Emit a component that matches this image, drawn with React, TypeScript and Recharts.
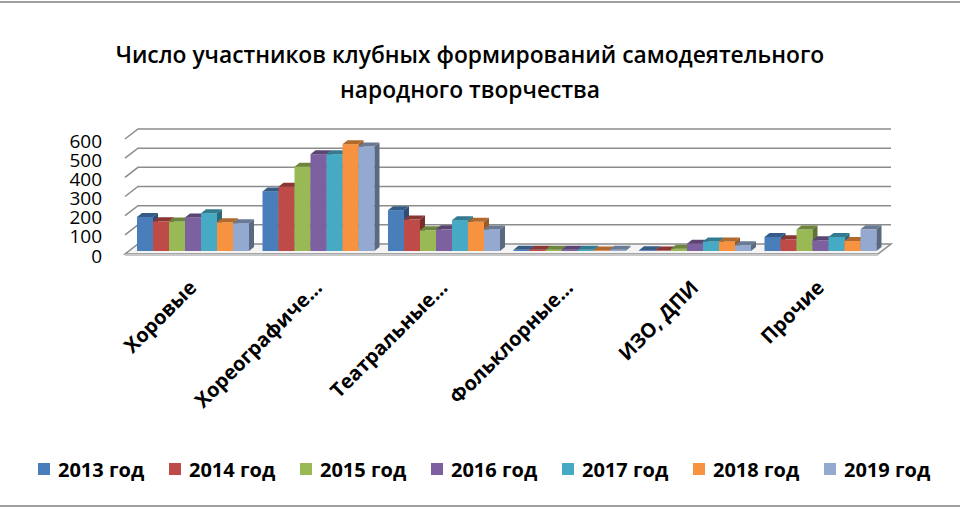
import React from 'react';
import { BarChart, Bar, XAxis, YAxis, CartesianGrid, Legend } from 'recharts';

const CATEGORIES = ['Хоровые', 'Хореографиче...', 'Театральные...', 'Фольклорные...', 'ИЗО, ДПИ', 'Прочие'];
const YEARS = ['2013 год', '2014 год', '2015 год', '2016 год', '2017 год', '2018 год', '2019 год'];

const Y2013 = [178, 311, 213, 6, 4, 73];
const Y2014 = [155, 335, 164, 6, 2, 61];
const Y2015 = [154, 440, 108, 6, 12, 112];
const Y2016 = [175, 505, 113, 6, 38, 56];
const Y2017 = [197, 505, 161, 6, 50, 73];
const Y2018 = [150, 557, 152, 3, 50, 52];
const Y2019 = [145, 545, 112, 6, 30, 113];
const SERIES = [Y2013, Y2014, Y2015, Y2016, Y2017, Y2018, Y2019];

const Y_TICKS = [0, 100, 200, 300, 400, 500, 600];
const COLORS = ['#4A7EBB', '#BE4B48', '#98B954', '#7D60A0', '#46AAC5', '#F69240', '#93A9CF'];

const FONT = "'Open Sans', sans-serif";
const GRID = '#8c8c8c';
// смещение "глубины" для псевдо-3D
const DX = 5;
const DY = 4;

const data = CATEGORIES.map((name, i) => {
  const row: Record<string, string | number> = { name };
  SERIES.forEach((s, k) => { row[`s${k}`] = s[i]; });
  return row;
});

function shade(hex: string, f: number) {
  const n = parseInt(hex.slice(1), 16);
  const c = [(n >> 16) & 255, (n >> 8) & 255, n & 255].map(v => Math.round(v * f));
  return `rgb(${c[0]},${c[1]},${c[2]})`;
}

const Bar3D = (props: any) => {
  const { x, y, width, height, fill } = props;
  if (x == null || y == null) return null;
  const h = Math.max(height, 0);
  return (
    <g>
      <rect x={x} y={y} width={width} height={h} fill={fill} />
      <polygon
        points={`${x},${y} ${x + DX},${y - DY} ${x + width + DX},${y - DY} ${x + width},${y}`}
        fill={shade(fill, 0.72)}
      />
      <polygon
        points={`${x + width},${y} ${x + width + DX},${y - DY} ${x + width + DX},${y + h - DY} ${x + width},${y + h}`}
        fill={shade(fill, 0.62)}
      />
    </g>
  );
};

// задняя стенка: линии сетки со "ступенькой" слева, нижняя — пол
const GridLine = (props: any) => {
  const { x1, x2, y1, index } = props;
  const bottom = props.y != null && props.height != null ? props.y + props.height : null;
  const isFloor = bottom != null ? Math.abs(y1 - bottom) < 0.5 : index === 0;
  if (isFloor) {
    return (
      <g key={`floor`}>
        <polygon
          points={`${x1 - 5},${y1 + 3} ${x2 - 5},${y1 + 3} ${x2 + 8},${y1 - 7} ${x1 + 8},${y1 - 7}`}
          fill="#f4f4f4" stroke={GRID} strokeWidth={1.5}
        />
        <rect x={x1 - 5} y={y1 + 3} width={x2 - x1} height={2} fill="#c8c8c8" />
      </g>
    );
  }
  return (
    <polyline
      key={`gl-${index}`}
      points={`${x1 - 5},${y1 + 3} ${x1 + 8},${y1 - 7} ${x2 + 8},${y1 - 7}`}
      fill="none" stroke={GRID} strokeWidth={1.5}
    />
  );
};

const YTick = ({ x, y, payload }: any) => (
  <text x={x} y={y + 4.5} textAnchor="end" dominantBaseline="central"
    fontFamily={FONT} fontSize={19} fill="#000">
    {payload.value}
  </text>
);

const XTick = ({ x, y, payload }: any) => {
  const ax = x + 5;
  const ay = y + 30;
  return (
    <text x={ax} y={ay} textAnchor="end" transform={`rotate(-45, ${ax}, ${ay})`}
      fontFamily={FONT} fontSize={20} fontWeight={700} fill="#000">
      {payload.value}
    </text>
  );
};

const LegendContent = ({ payload }: any) => (
  <div style={{ display: 'flex', alignItems: 'center', height: 34, paddingLeft: 38,
    fontFamily: FONT, fontSize: 20, fontWeight: 700, color: '#000' }}>
    {(payload || []).map((p: any) => (
      <div key={p.value} style={{ width: 131, display: 'flex', alignItems: 'center' }}>
        <span style={{ width: 12, height: 12, background: p.color, marginRight: 8, display: 'inline-block' }} />
        <span>{p.value}</span>
      </div>
    ))}
  </div>
);

export default function App() {
  return (
    <div style={{ position: 'relative', width: 960, height: 510, background: '#fff' }}>
      <style>{'body{margin:0}'}</style>
      <div style={{ position: 'absolute', left: 0, top: 1, width: 960, height: 2, background: '#a0a0a0' }} />
      <div style={{ position: 'absolute', left: 0, top: 505, width: 960, height: 2, background: '#a0a0a0' }} />
      <div style={{ position: 'absolute', left: 0, top: 37, width: 940, textAlign: 'center',
        fontFamily: FONT, fontSize: 22.8, fontWeight: 600, lineHeight: '35px', color: '#000' }}>
        Число участников клубных формирований самодеятельного<br />народного творчества
      </div>
      <BarChart width={960} height={510} data={data}
        margin={{ top: 136, right: 77, left: 0, bottom: 24 }}
        barCategoryGap={7} barGap={0}>
        <CartesianGrid vertical={false} horizontal={GridLine} />
        <XAxis dataKey="name" axisLine={false} tickLine={false} height={201}
          interval={0} tick={<XTick />} />
        <YAxis domain={[0, 600]} ticks={Y_TICKS} width={130} axisLine={false}
          tickLine={false} tickSize={0} tickMargin={28} tick={<YTick />} interval={0} />
        <Legend verticalAlign="bottom" content={<LegendContent />}
          wrapperStyle={{ left: 0, width: 960 }} />
        {SERIES.map((_, k) => (
          <Bar key={k} dataKey={`s${k}`} name={YEARS[k]} fill={COLORS[k]}
            shape={<Bar3D />} isAnimationActive={false} />
        ))}
      </BarChart>
    </div>
  );
}
